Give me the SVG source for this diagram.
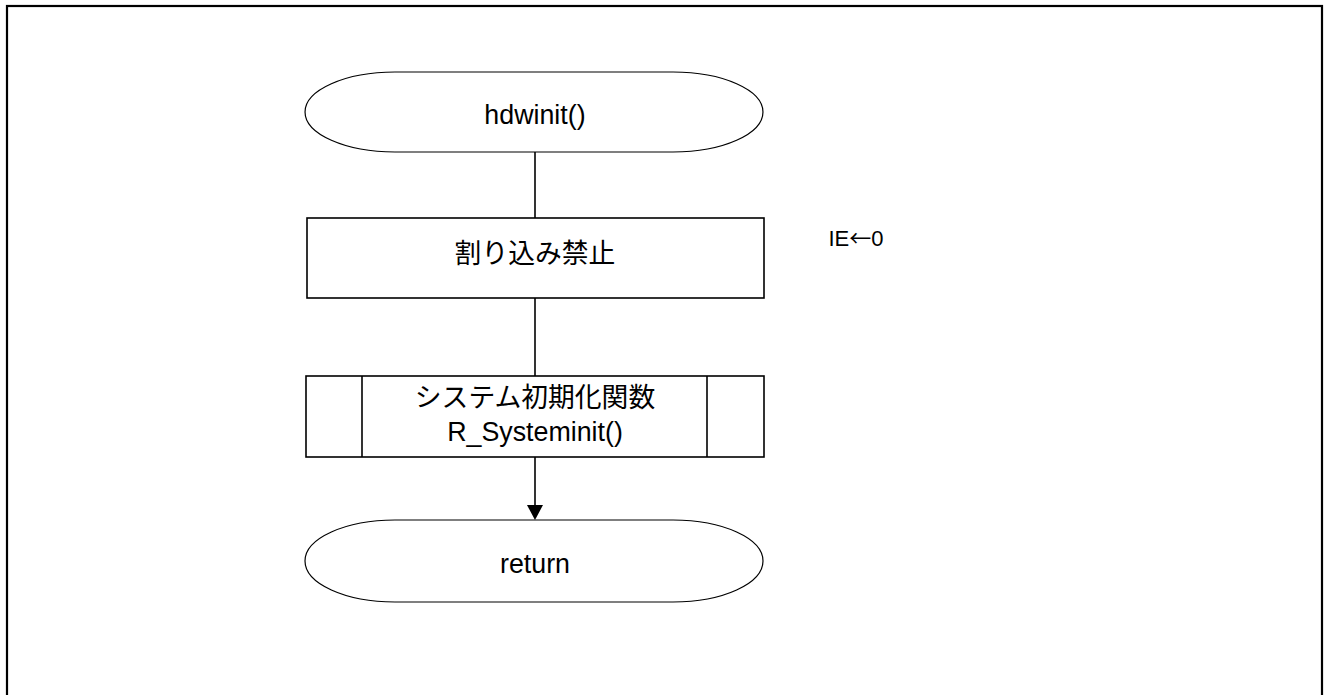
<svg xmlns="http://www.w3.org/2000/svg" width="1324" height="695" viewBox="0 0 1324 695">
<style>
.t{font-family:"Liberation Sans","Noto Sans CJK JP",Arial,sans-serif;font-size:26.8px;fill:#000;text-anchor:middle}
.s{fill:#fff;stroke:#000;stroke-width:1.6}
.e{fill:#fff;stroke:#000;stroke-width:1.2}
.c{stroke:#000;stroke-width:1.6;fill:none}
</style>
<rect x="0" y="0" width="1324" height="695" fill="#fff"/>
<rect x="7" y="6" width="1315" height="710" fill="none" stroke="#000" stroke-width="2.2"/>
<g id="connectors">
<line class="c" x1="535" y1="152" x2="535" y2="218"/>
<line class="c" x1="535" y1="298" x2="535" y2="376"/>
<line class="c" x1="535" y1="457" x2="535" y2="506"/>
<polygon points="527,505 543,505 535,520" fill="#000"/>
</g>
<g id="start">
<path class="e" d="M395,72 H673 A90,40 0 0 1 673,152 H395 A90,40 0 0 1 395,72 Z"/>
<text class="t" x="535" y="124">hdwinit()</text>
</g>
<g id="disable">
<rect class="s" x="307" y="218" width="457" height="80"/>
<text class="t" x="535" y="263">割り込み禁止</text>
</g>
<g id="note">
<text class="t" x="856" y="246" style="font-size:22px">IE<tspan style="font-family:'Noto Sans CJK JP',sans-serif;font-size:22px">←</tspan>0</text>
</g>
<g id="sysinit">
<rect class="s" x="306" y="376" width="458" height="81"/>
<line class="s" x1="362" y1="376" x2="362" y2="457"/>
<line class="s" x1="707" y1="376" x2="707" y2="457"/>
<text class="t" x="535" y="407">システム初期化関数</text>
<text class="t" x="535" y="441">R_Systeminit()</text>
</g>
<g id="return">
<path class="e" d="M395,520 H673 A90,41 0 0 1 673,602 H395 A90,41 0 0 1 395,520 Z"/>
<text class="t" x="535" y="573">return</text>
</g>
</svg>
